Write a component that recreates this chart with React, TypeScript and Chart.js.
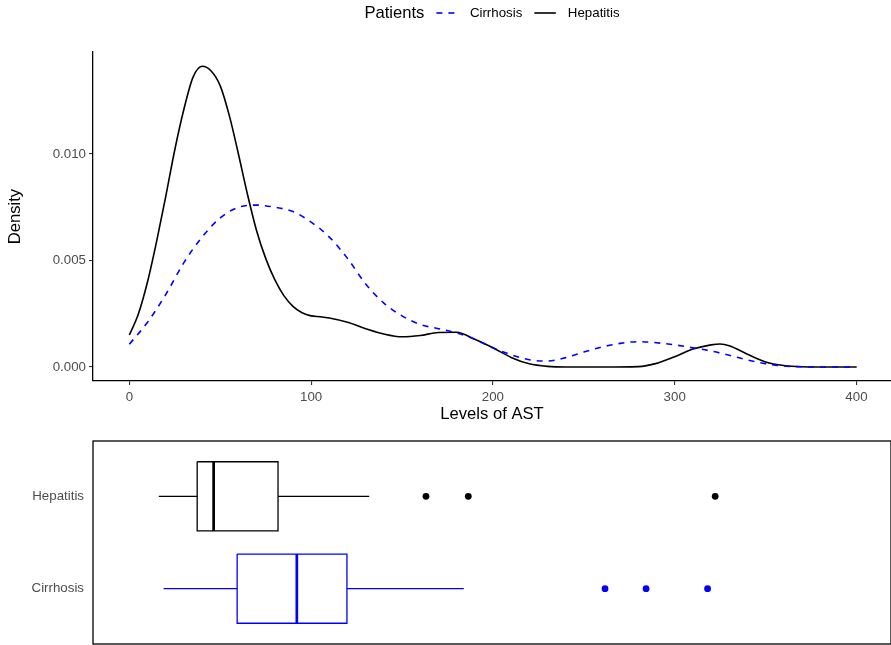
import { useEffect, useRef } from "react";
import { Chart, registerables } from "chart.js";

Chart.register(...registerables);

// ---------- data ----------
const legendTitle = "Patients";
const seriesNames = ["Cirrhosis", "Hepatitis"];

const cirrhosisAst = [0, 10, 20, 30, 40, 50, 60, 70, 80, 90, 100, 110, 120, 130, 140, 150, 160, 170, 180, 190, 200, 210, 220, 230, 240, 250, 260, 270, 280, 290, 300, 310, 320, 330, 340, 350, 360, 370, 380, 400];
const cirrhosisDensity = [0.00107, 0.0021, 0.0034, 0.0049, 0.0061, 0.007, 0.0075, 0.0076, 0.0075, 0.0073, 0.0068, 0.0061, 0.0051, 0.0039, 0.003, 0.0024, 0.002, 0.0018, 0.0016, 0.0013, 0.0009, 0.00058, 0.00034, 0.00028, 0.00044, 0.0007, 0.00094, 0.00111, 0.00119, 0.00114, 0.00104, 0.0009, 0.00075, 0.00055, 0.00033, 0.00016, 0.00005, 0.00001, 0, 0];

const hepatitisAst = [0, 5, 10, 15, 20, 25, 30, 35, 40, 45, 50, 55, 60, 65, 70, 75, 80, 85, 90, 95, 100, 105, 110, 120, 130, 140, 150, 160, 170, 180, 190, 200, 210, 220, 230, 240, 260, 280, 290, 300, 310, 320, 325, 330, 340, 350, 360, 370, 380, 400];
const hepatitisDensity = [0.0015, 0.0025, 0.004, 0.0059, 0.008, 0.0102, 0.0121, 0.0136, 0.01412, 0.0139, 0.0132, 0.0118, 0.01, 0.0081, 0.0064, 0.0051, 0.0041, 0.00335, 0.00285, 0.00255, 0.0024, 0.00236, 0.0023, 0.0021, 0.0018, 0.00155, 0.00142, 0.00148, 0.00162, 0.00163, 0.0013, 0.0009, 0.00045, 0.00015, 0.00003, 0, 0, 0.00002, 0.00017, 0.00048, 0.00084, 0.00104, 0.00108, 0.001, 0.0006, 0.00024, 0.00007, 0.00001, 0, 0];

const xTickValues = [0, 100, 200, 300, 400];
const yTickValues = [0, 0.005, 0.01];

// box plot statistics (Levels of AST)
const boxCategories = ["Hepatitis", "Cirrhosis"];
const boxLowerWhisker = [16.4, 19.0];
const boxQ1 = [37.6, 59.7];
const boxMedian = [46.7, 92.7];
const boxQ3 = [82.3, 120.4];
const boxUpperWhisker = [132.7, 185.0];
const boxOutliers = [
  [164.1, 187.5, 324.0],
  [263.1, 285.8, 319.8],
];
const boxColors = ["#000000", "#0000FF"];

// ---------- style ----------
const FONT = "'Liberation Sans', Arial, Helvetica, sans-serif";
const TICK_SIZE = 13.3;
const TITLE_SIZE = 16.6;
const TEXT_GREY = "#4D4D4D";
const X_MIN = -20;
const X_MAX = 419;
const BOX_HALF = 0.375;

const inlineLegend = {
  id: "inlineLegend",
  afterDraw(chart: any) {
    const ctx = chart.ctx;
    const area = chart.chartArea;
    const y = 13;
    ctx.save();
    ctx.textBaseline = "middle";
    ctx.textAlign = "left";
    ctx.font = `${TITLE_SIZE}px ${FONT}`;
    const titleW = ctx.measureText(legendTitle).width;
    ctx.font = `${TICK_SIZE}px ${FONT}`;
    const items = chart.data.datasets.map((ds: any) => ({
      label: ds.label,
      w: ctx.measureText(ds.label).width,
      color: ds.borderColor,
      dash: ds.borderDash || [],
      lw: ds.borderWidth,
    }));
    const keyW = 21.5;
    const gap = 12;
    const total = titleW + items.reduce((s: number, it: any) => s + gap + keyW + gap + it.w, 0);
    let x = (area.left + area.right) / 2 - total / 2;
    ctx.fillStyle = "#000";
    ctx.font = `${TITLE_SIZE}px ${FONT}`;
    ctx.fillText(legendTitle, x, y);
    x += titleW;
    for (const it of items) {
      x += gap;
      ctx.beginPath();
      ctx.setLineDash(it.dash);
      ctx.strokeStyle = it.color;
      ctx.lineWidth = it.lw;
      ctx.moveTo(x, y);
      ctx.lineTo(x + keyW, y);
      ctx.stroke();
      ctx.setLineDash([]);
      x += keyW + gap;
      ctx.fillStyle = "#000";
      ctx.font = `${TICK_SIZE}px ${FONT}`;
      ctx.fillText(it.label, x, y);
      x += it.w;
    }
    ctx.restore();
  },
};

const panelBorder = {
  id: "panelBorder",
  afterDraw(chart: any) {
    const { ctx, chartArea } = chart;
    ctx.save();
    ctx.strokeStyle = "#000";
    ctx.lineWidth = 1.3;
    ctx.strokeRect(chartArea.left, chartArea.top, chartArea.right - chartArea.left + 4, chartArea.bottom - chartArea.top);
    ctx.restore();
  },
};

function DensityChart() {
  const ref = useRef<HTMLCanvasElement>(null);
  useEffect(() => {
    const chart = new Chart(ref.current!, {
      type: "line",
      data: {
        datasets: [
          {
            label: seriesNames[0],
            data: cirrhosisAst.map((x, i) => ({ x, y: cirrhosisDensity[i] })),
            borderColor: "#0000FF",
            borderDash: [6, 6],
            borderWidth: 1.6,
            pointRadius: 0,
            cubicInterpolationMode: "monotone",
            fill: false,
          },
          {
            label: seriesNames[1],
            data: hepatitisAst.map((x, i) => ({ x, y: hepatitisDensity[i] })),
            borderColor: "#000000",
            borderWidth: 1.6,
            pointRadius: 0,
            cubicInterpolationMode: "monotone",
            fill: false,
          },
        ],
      },
      options: {
        animation: false,
        responsive: false,
        events: [],
        layout: { padding: { top: 52, left: 0, right: 0, bottom: 0 } },
        plugins: { legend: { display: false }, tooltip: { enabled: false } },
        scales: {
          x: {
            type: "linear",
            min: X_MIN,
            max: X_MAX,
            afterBuildTicks: (s: any) => {
              s.ticks = xTickValues.map((v) => ({ value: v }));
            },
            afterFit: (s: any) => {
              s.height = 49;
            },
            ticks: { color: TEXT_GREY, font: { family: FONT, size: TICK_SIZE }, padding: 4, maxRotation: 0 },
            grid: { drawOnChartArea: false, drawTicks: true, tickLength: 4, color: "#333333", lineWidth: 1.1 },
            border: { display: true, color: "#000", width: 1.3 },
            title: { display: true, text: "Levels of AST", color: "#000", font: { family: FONT, size: TITLE_SIZE }, padding: { top: 1, bottom: 6 } },
          },
          y: {
            type: "linear",
            min: -0.000657,
            max: 0.014789,
            afterBuildTicks: (s: any) => {
              s.ticks = yTickValues.map((v) => ({ value: v }));
            },
            afterFit: (s: any) => {
              s.width = 93;
            },
            ticks: { color: TEXT_GREY, font: { family: FONT, size: TICK_SIZE }, padding: 3, callback: (v: any) => Number(v).toFixed(3) },
            grid: { drawOnChartArea: false, drawTicks: true, tickLength: 4, color: "#333333", lineWidth: 1.1 },
            border: { display: true, color: "#000", width: 1.3 },
            title: { display: true, text: "Density", color: "#000", font: { family: FONT, size: TITLE_SIZE }, padding: { top: 5, bottom: 0 } },
          },
        },
      },
      plugins: [inlineLegend],
    } as any);
    return () => chart.destroy();
  }, []);
  return <canvas ref={ref} width={891} height={430} style={{ position: "absolute", left: 0, top: 0, width: 891, height: 430 }} />;
}

function BoxChart() {
  const ref = useRef<HTMLCanvasElement>(null);
  useEffect(() => {
    const datasets: any[] = [];
    boxCategories.forEach((_, i) => {
      const c = i + 1;
      const color = boxColors[i];
      const common = { borderColor: color, pointRadius: 0, showLine: true, fill: false, borderJoinStyle: "miter" };
      datasets.push({
        ...common,
        borderWidth: 1.3,
        data: [
          { x: boxQ1[i], y: c - BOX_HALF },
          { x: boxQ3[i], y: c - BOX_HALF },
          { x: boxQ3[i], y: c + BOX_HALF },
          { x: boxQ1[i], y: c + BOX_HALF },
          { x: boxQ1[i], y: c - BOX_HALF },
        ],
      });
      datasets.push({ ...common, borderWidth: 1.3, data: [{ x: boxLowerWhisker[i], y: c }, { x: boxQ1[i], y: c }] });
      datasets.push({ ...common, borderWidth: 1.3, data: [{ x: boxQ3[i], y: c }, { x: boxUpperWhisker[i], y: c }] });
      datasets.push({ ...common, borderWidth: 2.7, data: [{ x: boxMedian[i], y: c - BOX_HALF }, { x: boxMedian[i], y: c + BOX_HALF }] });
      datasets.push({
        showLine: false,
        pointRadius: 3.4,
        pointBorderWidth: 0,
        pointBackgroundColor: color,
        backgroundColor: color,
        borderColor: color,
        data: boxOutliers[i].map((x) => ({ x, y: c })),
      });
    });
    const chart = new Chart(ref.current!, {
      type: "scatter",
      data: { datasets },
      options: {
        animation: false,
        responsive: false,
        events: [],
        layout: { padding: { top: 11, left: 0, right: 0, bottom: 2 } },
        plugins: { legend: { display: false }, tooltip: { enabled: false } },
        scales: {
          x: { type: "linear", min: X_MIN, max: X_MAX, display: false },
          y: {
            type: "linear",
            min: 0.4,
            max: 2.6,
            reverse: true,
            afterBuildTicks: (s: any) => {
              s.ticks = boxCategories.map((_, i) => ({ value: i + 1 }));
            },
            afterFit: (s: any) => {
              s.width = 93;
              s.paddingTop = 0;
              s.paddingBottom = 0;
            },
            ticks: { color: TEXT_GREY, font: { family: FONT, size: TICK_SIZE }, padding: 9, callback: (v: any) => boxCategories[Math.round(v) - 1] },
            grid: { display: false, drawTicks: false },
            border: { display: false },
          },
        },
      },
      plugins: [panelBorder],
    } as any);
    return () => chart.destroy();
  }, []);
  return <canvas ref={ref} width={891} height={218} style={{ position: "absolute", left: 0, top: 430, width: 891, height: 218 }} />;
}

export default function App() {
  return (
    <div style={{ position: "fixed", left: 0, top: 0, width: 891, height: 645, overflow: "hidden", background: "#fff" }}>
      <DensityChart />
      <BoxChart />
    </div>
  );
}
